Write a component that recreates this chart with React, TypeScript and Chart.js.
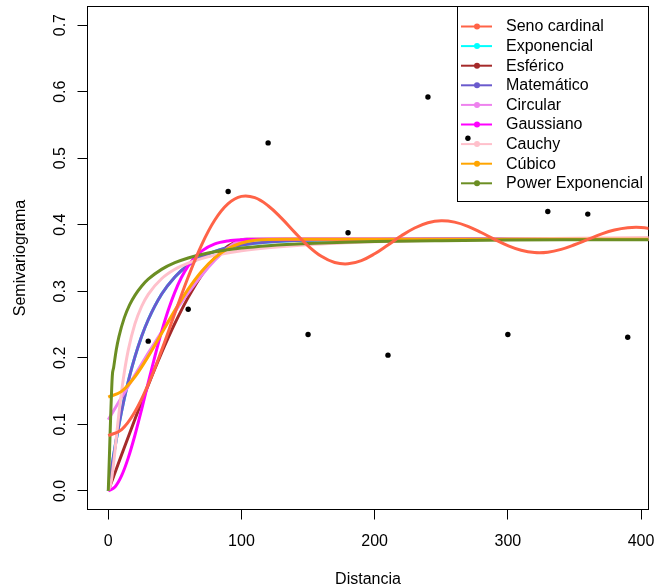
import React, { useEffect, useRef } from "react";
import { Chart, registerables } from "chart.js";

Chart.register(...registerables);

// ---- labels / styles ----
const modelNames = [
  "Seno cardinal",
  "Exponencial",
  "Esférico",
  "Matemático",
  "Circular",
  "Gaussiano",
  "Cauchy",
  "Cúbico",
  "Power Exponencial",
];
const modelColors = [
  "#FF6347",
  "#00FFFF",
  "#A52A2A",
  "#6A5ACD",
  "#EE82EE",
  "#FF00FF",
  "#FFC0CB",
  "#FFA500",
  "#6B8E23",
];
// drawing order (lower = on top)
const modelOrder = [0, 8, 7, 6, 5, 4, 3, 2, 1];

const xTicks = [0, 100, 200, 300, 400];
const xTickLabels = ["0", "100", "200", "300", "400"];
const yTicks = [0, 0.1, 0.2, 0.3, 0.4, 0.5, 0.6, 0.7];
const yTickLabels = ["0.0", "0.1", "0.2", "0.3", "0.4", "0.5", "0.6", "0.7"];
const xTitle = "Distancia";
const yTitle = "Semivariograma";

// ---- empirical semivariogram ----
const lagDist = [30, 60, 90, 120, 150, 180, 210, 240, 270, 300, 330, 360, 390];
const lagGamma = [0.225, 0.273, 0.45, 0.523, 0.235, 0.388, 0.204, 0.592, 0.53, 0.235, 0.42, 0.416, 0.231];

// ---- fitted models ----
const senoX = [0, 10, 20, 30, 40, 50, 60, 70, 80, 90, 100, 110, 120, 130, 140, 150, 160, 170, 180, 190, 200, 210, 220, 230, 240, 250, 260, 270, 280, 290, 300, 310, 320, 330, 340, 350, 360, 370, 380, 390, 400, 410];
const senoY = [0.083, 0.0922, 0.1189, 0.1601, 0.2112, 0.2669, 0.3214, 0.3695, 0.4071, 0.4317, 0.4426, 0.4407, 0.4286, 0.4099, 0.3885, 0.3683, 0.3525, 0.3432, 0.3412, 0.3461, 0.3563, 0.3696, 0.3833, 0.3951, 0.403, 0.406, 0.4039, 0.3976, 0.3883, 0.378, 0.3686, 0.3616, 0.3583, 0.3588, 0.363, 0.3699, 0.3779, 0.3858, 0.392, 0.3955, 0.3959, 0.3932];

const expoX = [0, 4, 8, 12, 16, 20, 25, 30, 40, 50, 60, 70, 80, 90, 100, 120, 150, 200, 250, 300, 410];
const expoY = [0, 0.0533, 0.0992, 0.1385, 0.1723, 0.2013, 0.2319, 0.2572, 0.2954, 0.3215, 0.3394, 0.3516, 0.36, 0.3657, 0.3696, 0.3741, 0.3767, 0.3778, 0.378, 0.378, 0.378];

const esfX = [0, 4, 10, 20, 30, 40, 50, 60, 70, 80, 90, 100, 104, 150, 200, 300, 410];
const esfY = [0, 0.0218, 0.0543, 0.1077, 0.159, 0.2073, 0.2516, 0.2908, 0.324, 0.3501, 0.3682, 0.3772, 0.378, 0.378, 0.378, 0.378, 0.378];

const mateX = [0, 4, 8, 12, 16, 20, 25, 30, 40, 50, 60, 70, 80, 90, 100, 120, 150, 200, 250, 300, 410];
const mateY = [0, 0.0533, 0.0992, 0.1385, 0.1723, 0.2013, 0.2319, 0.2572, 0.2954, 0.3215, 0.3394, 0.3516, 0.36, 0.3657, 0.3696, 0.3741, 0.3767, 0.3778, 0.378, 0.378, 0.378];

const circX = [0, 4, 10, 20, 30, 40, 50, 60, 70, 80, 90, 95, 100, 102, 150, 200, 300, 410];
const circY = [0.107, 0.1205, 0.1407, 0.1742, 0.207, 0.2388, 0.2691, 0.2976, 0.3237, 0.3465, 0.3653, 0.3723, 0.3771, 0.378, 0.378, 0.378, 0.378, 0.378];

const gausX = [0, 5, 10, 15, 20, 25, 30, 35, 40, 45, 50, 55, 60, 65, 70, 80, 90, 100, 120, 150, 200, 300, 410];
const gausY = [0, 0.0059, 0.0229, 0.0496, 0.0836, 0.1222, 0.1626, 0.2022, 0.2389, 0.2714, 0.2988, 0.321, 0.3382, 0.351, 0.3603, 0.3711, 0.3756, 0.3773, 0.378, 0.378, 0.378, 0.378, 0.378];

const cauchyX = [0, 2, 4, 6, 8, 10, 12, 15, 20, 25, 30, 40, 50, 60, 70, 80, 100, 120, 150, 200, 250, 300, 350, 410];
const cauchyY = [0, 0.0117, 0.0415, 0.0791, 0.1164, 0.1495, 0.1777, 0.2115, 0.251, 0.2771, 0.2954, 0.3188, 0.333, 0.3424, 0.3491, 0.3541, 0.361, 0.3655, 0.3699, 0.3743, 0.3769, 0.3785, 0.3797, 0.3807];

const cubX = [0, 10, 20, 30, 40, 50, 60, 70, 80, 90, 100, 110, 120, 133, 200, 300, 410];
const cubY = [0.141, 0.1495, 0.1715, 0.2021, 0.2367, 0.2713, 0.3031, 0.3297, 0.3502, 0.3643, 0.3726, 0.3766, 0.3779, 0.378, 0.378, 0.378, 0.378];

const powX = [0, 3, 4, 6, 8, 12, 16, 20, 25, 30, 40, 50, 60, 70, 80, 100, 120, 150, 200, 250, 300, 350, 410];
const powY = [0, 0.172, 0.185, 0.212, 0.2319, 0.26, 0.2795, 0.2939, 0.3076, 0.3181, 0.3329, 0.3429, 0.35, 0.3553, 0.3593, 0.3649, 0.3685, 0.3718, 0.3747, 0.3761, 0.3769, 0.3773, 0.3776];

const modelXs = [senoX, expoX, esfX, mateX, circX, gausX, cauchyX, cubX, powX];
const modelYs = [senoY, expoY, esfY, mateY, circY, gausY, cauchyY, cubY, powY];

const FONT = '16px "Liberation Sans", Arial, Helvetica, sans-serif';

const rPlotPlugin = {
  id: "rPlot",
  beforeDatasetsDraw(chart: any) {
    const { ctx, chartArea: a, scales } = chart;
    const xs = scales.x;
    const ys = scales.y;
    ctx.save();
    ctx.strokeStyle = "#000";
    ctx.lineWidth = 1;
    ctx.strokeRect(a.left, a.top, a.right - a.left, a.bottom - a.top);

    ctx.fillStyle = "#000";
    ctx.font = FONT;
    // x ticks
    ctx.textAlign = "center";
    ctx.textBaseline = "alphabetic";
    xTicks.forEach((v, i) => {
      const px = Math.floor(xs.getPixelForValue(v)) + 0.5;
      ctx.beginPath();
      ctx.moveTo(px, a.bottom);
      ctx.lineTo(px, a.bottom + 10);
      ctx.stroke();
      ctx.fillText(xTickLabels[i], xs.getPixelForValue(v), 546);
    });
    ctx.fillText(xTitle, (a.left + a.right) / 2, 584);

    // y ticks
    yTicks.forEach((v, i) => {
      const py = Math.floor(ys.getPixelForValue(v)) + 0.5;
      ctx.beginPath();
      ctx.moveTo(a.left - 10, py);
      ctx.lineTo(a.left, py);
      ctx.stroke();
      ctx.save();
      ctx.translate(65, ys.getPixelForValue(v));
      ctx.rotate(-Math.PI / 2);
      ctx.textAlign = "center";
      ctx.fillText(yTickLabels[i], 0, 0);
      ctx.restore();
    });
    ctx.save();
    ctx.translate(25, (a.top + a.bottom) / 2);
    ctx.rotate(-Math.PI / 2);
    ctx.textAlign = "center";
    ctx.fillText(yTitle, 0, 0);
    ctx.restore();

    // legend (top right)
    const lx = 457.5;
    const lt = a.top;
    const lr = a.right;
    const lb = 201.5;
    ctx.fillStyle = "#fff";
    ctx.fillRect(lx, lt, lr - lx, lb - lt);
    ctx.strokeStyle = "#000";
    ctx.strokeRect(lx, lt, lr - lx, lb - lt);
    ctx.textAlign = "left";
    ctx.textBaseline = "middle";
    modelNames.forEach((name, i) => {
      const yy = 26.5 + i * 19.6;
      ctx.strokeStyle = modelColors[i];
      ctx.lineWidth = 2;
      ctx.beginPath();
      ctx.moveTo(461, yy);
      ctx.lineTo(492, yy);
      ctx.stroke();
      ctx.fillStyle = modelColors[i];
      ctx.beginPath();
      ctx.arc(477, yy, 3, 0, Math.PI * 2);
      ctx.fill();
      ctx.fillStyle = "#000";
      ctx.fillText(name, 506, yy + 0.5);
    });
    ctx.restore();
  },
};

export default function App() {
  const ref = useRef<HTMLCanvasElement>(null);
  useEffect(() => {
    if (!ref.current) return;
    const datasets: any[] = modelNames.map((name, i) => ({
      label: name,
      data: modelXs[i].map((x, j) => ({ x, y: modelYs[i][j] })),
      borderColor: modelColors[i],
      backgroundColor: modelColors[i],
      borderWidth: 3,
      pointRadius: 0,
      fill: false,
      cubicInterpolationMode: i === 0 ? "default" : "monotone",
      tension: i === 0 ? 0.4 : 0,
      order: modelOrder[i],
    }));
    datasets.push({
      label: "Semivariograma empírico",
      data: lagDist.map((x, j) => ({ x, y: lagGamma[j] })),
      showLine: false,
      pointRadius: 2.7,
      pointBorderWidth: 0,
      pointBackgroundColor: "#000",
      borderColor: "#000",
      backgroundColor: "#000",
      order: -10,
    });
    const chart = new Chart(ref.current, {
      type: "line",
      data: { datasets },
      options: {
        responsive: false,
        animation: false,
        devicePixelRatio: 1,
        layout: { padding: { left: 87.5, top: 6.5, right: 6.5, bottom: 78.5 } },
        plugins: { legend: { display: false }, tooltip: { enabled: false } },
        scales: {
          x: { type: "linear", min: -15.6, max: 405.6, display: false },
          y: { type: "linear", min: -0.028, max: 0.728, display: false },
        },
      },
      plugins: [rPlotPlugin],
    } as any);
    return () => chart.destroy();
  }, []);
  return (
    <div style={{ position: "absolute", left: 0, top: 0, width: 655, height: 588, background: "#fff" }}>
      <canvas ref={ref} width={655} height={588} style={{ width: 655, height: 588, display: "block" }} />
    </div>
  );
}
